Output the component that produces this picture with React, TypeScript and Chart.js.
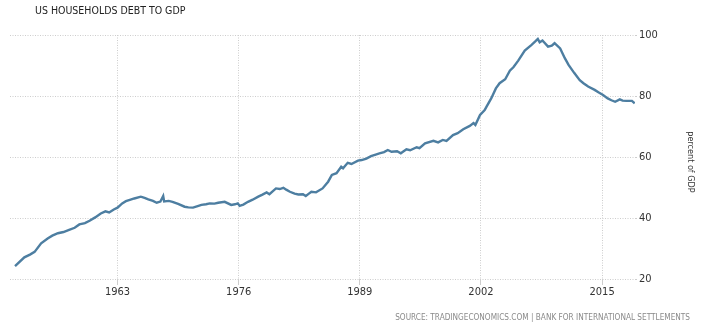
import React, { useEffect, useRef } from "react";
import { Chart, registerables } from "chart.js";

Chart.register(...registerables);

const TITLE = "US HOUSEHOLDS DEBT TO GDP";
const SOURCE = "SOURCE: TRADINGECONOMICS.COM | BANK FOR INTERNATIONAL SETTLEMENTS";
const Y_TITLE = "percent of GDP";
const X_TICKS = [1963, 1976, 1989, 2002, 2015];
const Y_TICKS = [20, 40, 60, 80, 100];

const years = [
  1952.0, 1953.0, 1953.6, 1954.1, 1954.8, 1955.5, 1956.0, 1956.6, 1957.2, 1957.8,
  1958.4, 1958.9, 1959.5, 1960.0, 1960.6, 1961.2, 1961.7, 1962.1, 1962.6, 1963.0,
  1963.5, 1963.9, 1964.4, 1964.8, 1965.5, 1965.9, 1966.3, 1966.8, 1967.2, 1967.6,
  1967.9, 1968.0, 1968.5, 1968.9, 1969.5, 1970.2, 1970.6, 1971.1, 1971.6, 1972.0,
  1972.5, 1972.9, 1973.4, 1973.8, 1974.5, 1975.2, 1975.6, 1975.9, 1976.1, 1976.5,
  1977.0, 1977.5, 1978.1, 1978.5, 1979.0, 1979.3, 1980.0, 1980.4, 1980.8, 1981.1,
  1981.5, 1982.0, 1982.4, 1982.9, 1983.2, 1983.5, 1983.8, 1984.3, 1985.0, 1985.6,
  1986.0, 1986.5, 1987.0, 1987.2, 1987.7, 1988.1, 1988.8, 1989.2, 1989.7, 1990.2,
  1990.7, 1991.1, 1991.6, 1992.0, 1992.4, 1993.0, 1993.4, 1994.0, 1994.4, 1995.1,
  1995.4, 1996.0, 1996.9, 1997.4, 1997.9, 1998.3, 1999.0, 1999.5, 2000.1, 2000.8,
  2001.2, 2001.4, 2001.9, 2002.4, 2002.6, 2003.1, 2003.6, 2004.0, 2004.6, 2005.1,
  2005.5, 2006.0, 2006.7, 2007.4, 2007.8, 2008.1, 2008.3, 2008.6, 2009.2, 2009.6,
  2009.9, 2010.5, 2011.0, 2011.4, 2012.0, 2012.6, 2013.0, 2013.5, 2014.2, 2014.6,
  2015.1, 2015.6, 2016.0, 2016.4, 2016.9, 2017.2, 2017.6, 2018.2, 2018.5,
];

const debtToGdp = [
  24.2, 27.1, 28.0, 28.9, 31.7, 33.3, 34.2, 35.0, 35.4, 36.1,
  36.8, 37.9, 38.3, 39.1, 40.2, 41.5, 42.2, 41.8, 42.8, 43.4,
  44.8, 45.5, 46.0, 46.4, 47.0, 46.6, 46.1, 45.6, 45.0, 45.4,
  47.2, 45.4, 45.6, 45.3, 44.6, 43.7, 43.5, 43.4, 43.9, 44.3,
  44.5, 44.8, 44.7, 45.0, 45.3, 44.3, 44.5, 44.8, 44.0, 44.4,
  45.3, 46.0, 47.0, 47.6, 48.4, 47.8, 49.7, 49.5, 49.9, 49.3,
  48.6, 48.0, 47.7, 47.8, 47.2, 47.9, 48.6, 48.4, 49.7, 51.9,
  54.1, 54.7, 56.8, 56.3, 58.1, 57.7, 58.8, 59.0, 59.5, 60.3,
  60.8, 61.2, 61.6, 62.3, 61.7, 61.9, 61.2, 62.5, 62.2, 63.2,
  62.9, 64.5, 65.3, 64.8, 65.6, 65.3, 67.2, 67.8, 69.1, 70.2,
  71.1, 70.5, 73.8, 75.4, 76.5, 79.2, 82.5, 84.2, 85.5, 88.3,
  89.5, 91.6, 94.9, 96.7, 97.8, 98.7, 97.6, 98.2, 96.2, 96.5,
  97.3, 95.6, 92.4, 90.2, 87.6, 85.2, 84.2, 83.1, 82.0, 81.2,
  80.3, 79.2, 78.6, 78.1, 78.9, 78.5, 78.4, 78.4, 77.6,
];

const FONT = "'DejaVu Sans Condensed', 'DejaVu Sans', sans-serif";

const textPlugin = {
  id: "texts",
  afterDraw(chart: any) {
    const ctx = chart.ctx;
    ctx.save();
    ctx.fillStyle = "#222";
    ctx.font = `10.5px ${FONT}`;
    ctx.textAlign = "left";
    ctx.textBaseline = "middle";
    ctx.fillText(TITLE, 35, 11);

    ctx.fillStyle = "#8a8a8a";
    ctx.font = `8.2px ${FONT}`;
    ctx.textAlign = "right";
    ctx.fillText(SOURCE, 690, 318);

    ctx.fillStyle = "#333";
    ctx.font = `9px ${FONT}`;
    ctx.translate(690, 162);
    ctx.rotate(Math.PI / 2);
    ctx.textAlign = "center";
    ctx.fillText(Y_TITLE, 0, 0);
    ctx.restore();
  },
};

export default function App() {
  const ref = useRef<HTMLCanvasElement | null>(null);

  useEffect(() => {
    document.body.style.margin = "0";
    const canvas = ref.current;
    if (!canvas) return;
    const chart = new Chart(canvas, {
      type: "line",
      data: {
        datasets: [
          {
            data: years.map((y, i) => ({ x: y, y: debtToGdp[i] })),
            borderColor: "#4d7ea1",
            borderWidth: 2.4,
            pointRadius: 0,
            tension: 0,
            fill: false,
          },
        ],
      },
      options: {
        animation: false,
        responsive: false,
        maintainAspectRatio: false,
        layout: { padding: { top: 35, left: 10, right: 0, bottom: 0 } },
        plugins: { legend: { display: false }, tooltip: { enabled: false }, title: { display: false } },
        scales: {
          x: {
            type: "linear",
            min: 1951.46,
            max: 2018.53,
            afterBuildTicks: (axis: any) => {
              axis.ticks = X_TICKS.map((v) => ({ value: v }));
            },
            afterFit: (axis: any) => {
              axis.height = 46;
            },
            border: { display: false, dash: [1, 1.5] },
            grid: { color: "#cdcdcd", tickLength: 6, lineWidth: 1 },
            ticks: {
              autoSkip: false,
              maxRotation: 0,
              padding: 1,
              color: "#333",
              font: { family: FONT, size: 11 },
              callback: (v: any) => String(v),
            },
          },
          y: {
            position: "right",
            min: 20,
            max: 100,
            afterBuildTicks: (axis: any) => {
              axis.ticks = Y_TICKS.map((v) => ({ value: v }));
            },
            afterFit: (axis: any) => {
              axis.width = 67;
            },
            border: { display: false, dash: [1, 1.5] },
            grid: { color: "#cdcdcd", tickLength: 2, lineWidth: 1 },
            ticks: {
              padding: 2,
              color: "#333",
              font: { family: FONT, size: 11 },
            },
          },
        },
      },
      plugins: [textPlugin],
    });
    return () => chart.destroy();
  }, []);

  return (
    <div style={{ position: "absolute", left: 0, top: 0, width: 702, height: 325, background: "#fff" }}>
      <canvas ref={ref} width={702} height={325} style={{ width: 702, height: 325, display: "block" }} />
    </div>
  );
}
